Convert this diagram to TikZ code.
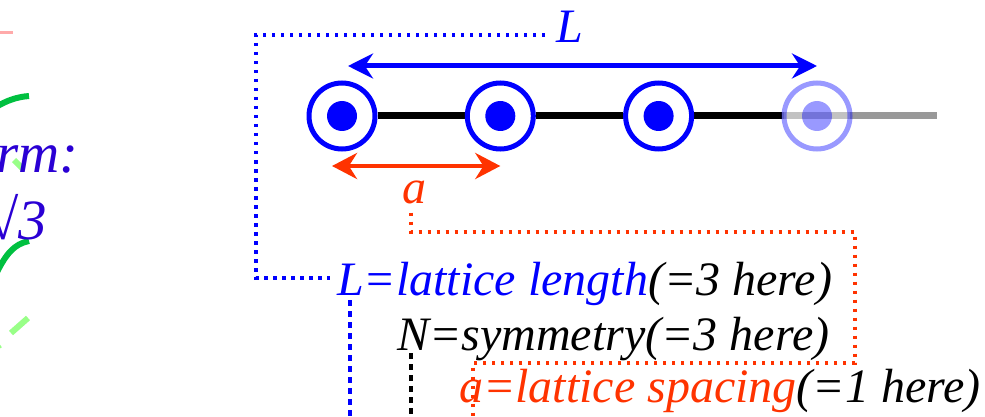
\documentclass[tikz,border=0pt]{standalone}
\usepackage{fontspec}
\setmainfont{Liberation Serif}[ItalicFont={Liberation Serif Italic}]
\usepackage{tikz}
\usetikzlibrary{
  arrows.meta,
  positioning,
  calc,
  backgrounds
}
\definecolor{ltBlue}{HTML}{0000FF}
\definecolor{ltRed}{HTML}{FF3300}
\definecolor{ltInk}{HTML}{2A00D4}
\definecolor{ltGreen}{HTML}{00C040}
\definecolor{ltMint}{HTML}{99FF88}
\definecolor{ltPink}{HTML}{FFAAAA}
\tikzset{
  site/.style={
    circle, draw=ltBlue, fill=white, line width=5pt, minimum size=66pt, inner sep=0pt
  },
  ghostsite/.style={site, draw opacity=0.4, fill opacity=0.4},
  bond/.style={line width=7pt, black},
  ghostbond/.style={bond, opacity=0.4},
  txt/.style={font=\fontsize{48}{56}\selectfont\itshape, inner sep=0pt, anchor=base west},
  bigtxt/.style={font=\fontsize{57}{66}\selectfont\itshape, inner sep=0pt, anchor=base east, text=ltInk},
  lenarrow/.style={{Stealth[length=25pt, width=25pt]}-{Stealth[length=25pt, width=25pt]}, line width=5pt, ltBlue},
  spcarrow/.style={{Stealth[length=25pt, width=26pt]}-{Stealth[length=25pt, width=26pt]}, line width=4.5pt, ltRed},
  bleader/.style={ltBlue, line width=3.5pt, dash pattern=on 3.5pt off 5.5pt},
  rleader/.style={ltRed, line width=3.5pt, dash pattern=on 3.5pt off 5.5pt},
  bdrop/.style={ltBlue, line width=4pt, dash pattern=on 6pt off 5pt},
  kdrop/.style={black, line width=4pt, dash pattern=on 6pt off 5pt},
  scrap/.style={line width=6pt}
}

\begin{document}
\begin{tikzpicture}[x=1pt, y=-1pt]
  \useasboundingbox (0,0) rectangle (985,417);
  \clip (0,0) rectangle (985,417);

  % cut-off pieces at the left edge
  \draw[ltPink, line width=3pt] (-2,33) -- (13,33);
  \draw[ltGreen, scrap] (-4,107) .. controls (6,101) and (16,97) .. (29,96);
  \draw[ltGreen, scrap] (-4,274) .. controls (6,254) and (14,244) .. (29,241);
  \draw[ltMint, scrap] (14,160) -- (23,169);
  \draw[ltMint, scrap] (11,333) -- (28,318);
  \draw[ltMint, line width=3pt] (-2,348) -- (1,346);
  \node[bigtxt] (formTxt) at (79,172) {rm:};
  \node[bigtxt] (rootTxt) at (47,239) {√3};

  % lattice sites
  \foreach \i in {1,2,3}
    \node[site] (s\i) at ({342+158.3*(\i-1)},116) {};
  \node[ghostsite] (s4) at (817,116) {};
  \coordinate (tail) at (937,116);
  \begin{pgfonlayer}{background}
    \foreach \i/\j in {1/2,2/3,3/4}
      \draw[bond] (s\i.east) -- (s\j.west);
    \draw[ghostbond] (s4.west) -- (tail);
  \end{pgfonlayer}
  \foreach \i in {1,2,3}
    \fill[ltBlue] (s\i) circle (15pt);
  \fill[ltBlue, opacity=0.4] (s4) circle (15pt);

  % arrows and their labels
  \draw[lenarrow] ($(s1)+(6,-50)$) -- ($(s4)+(0,-50)$);
  \draw[spcarrow] ($(s1)+(-10,50)$) -- ($(s2)+(0,50)$);
  \node[txt, text=ltBlue] (Llab) at (556,43) {L};
  \node[txt, text=ltRed, anchor=base] (alab) at (414,203) {a};

  % legend
  \node[txt] (lenTxt) at (337,295) {\textcolor{ltBlue}{L=lattice length}(=3 here)};
  \node[txt] (symTxt) at (397,350) {N=symmetry(=3 here)};
  \node[txt] (spcTxt) at (459,402) {\textcolor{ltRed}{a=lattice spacing}(=1 here)};

  % leaders
  \coordinate (bcorner) at (256,35);
  \coordinate (bend) at (330,278);
  \draw[bleader] (545,35) -- (bcorner) |- (bend);
  \draw[bdrop] (350,300) -- (350,425);
  \draw[kdrop] (411,353) -- (411,425);
  \draw[rleader] ($(alab.south)+(-3,9)$) |- (855,232) |- (473,363) -- (473,425);
\end{tikzpicture}
\end{document}
